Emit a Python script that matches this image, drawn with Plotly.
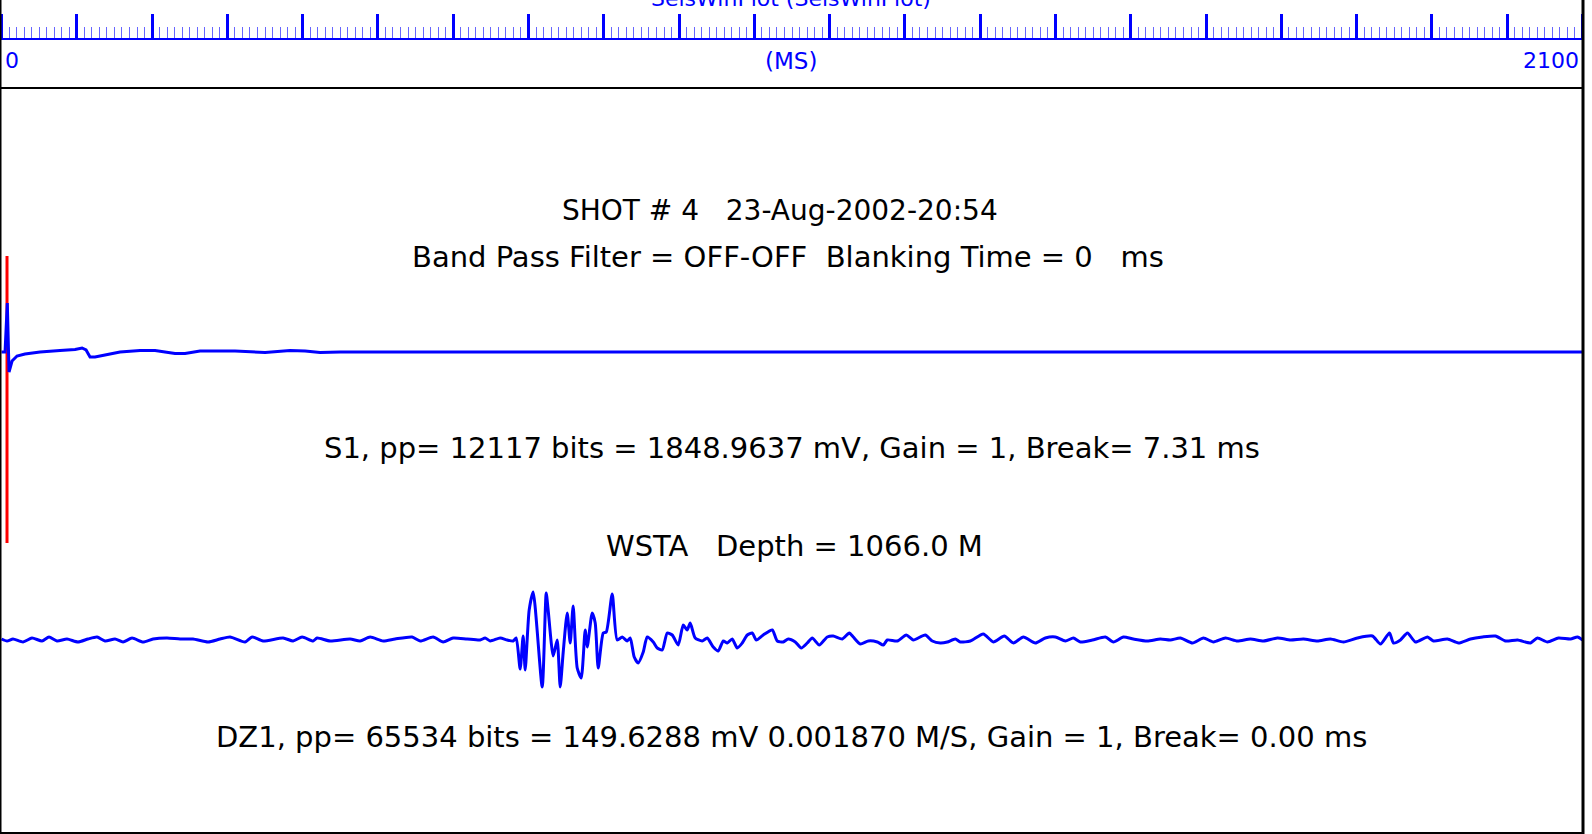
import plotly.graph_objects as go

W, H = 1592, 834

# ---------------- data ----------------
# S1 trace: time (ms) and amplitude (display units, positive up)
s1_t = [0, 4.7, 7.7, 10.0, 14.0, 20.6, 31.2, 51.2, 77.7, 97.7, 107.0, 112.3, 117.6,
        124.2, 137.5, 157.4, 184.0, 204.0, 217.2, 230.5, 243.8, 263.7, 310.2, 330.2,
        350.1, 383.3, 403.3, 423.2, 449.8, 2100]
s1_a = [0, 0, 49, -20, -9, -4, -2, 0, 1.5, 2.5, 4, 2, -5,
        -5, -3, 0, 1.5, 1.5, 0, -1.5, -1.5, 1, 1, 0,
        -0.5, 1.5, 1, -0.5, 0, 0]

# DZ1 trace: time (ms) and amplitude (display units, positive up)
dz1_t = [0, 7.3, 15.3, 28.6, 40.5, 53.8, 63.1, 73.7, 87.0, 101.6, 114.9, 126.9, 137.5,
         150.8, 161.4, 173.4, 188.0, 201.3, 219.9, 237.2, 254.4, 274.4, 290.3, 303.6,
         323.5, 332.9, 347.4, 374.0, 387.3, 399.3, 413.9, 419.2, 436.5, 463.0, 476.3,
         489.6, 506.9, 522.8, 545.4, 556.1, 573.3, 586.6, 599.9, 618.5, 635.8, 642.4,
         649.1, 662.3, 671.7, 679.6, 683.6, 688.9, 692.9, 695.6, 700.9, 706.2, 718.2,
         723.5, 726.1, 732.8, 738.1, 742.1, 746.0, 751.4, 755.4, 759.3, 764.7, 770.0,
         775.3, 778.0, 784.6, 788.6, 792.6, 799.3, 803.3, 811.2, 817.8, 824.5, 831.1,
         835.1, 840.4, 845.7, 852.4, 857.7, 865.7, 871.0, 877.6, 884.3, 890.9, 898.9,
         905.5, 910.8, 914.8, 921.4, 930.7, 937.4, 945.4, 952.0, 958.7, 964.0, 970.6,
         977.3, 983.9, 990.6, 997.2, 1002.5, 1011.8, 1023.8, 1030.4, 1038.4, 1045.0,
         1054.3, 1062.3, 1070.3, 1076.9, 1086.2, 1096.8, 1104.8, 1116.8, 1126.1, 1131.4,
         1140.7, 1151.3, 1163.3, 1171.3, 1176.6, 1189.9, 1201.8, 1211.1, 1227.0, 1236.3,
         1247.0, 1256.3, 1266.9, 1273.6, 1286.9, 1304.1, 1317.4, 1332.0, 1344.0, 1357.3,
         1373.2, 1386.5, 1399.8, 1413.1, 1423.7, 1433.0, 1449.0, 1466.2, 1476.9, 1490.2,
         1503.4, 1522.0, 1539.3, 1552.6, 1565.9, 1581.9, 1596.5, 1609.8, 1625.7, 1641.6,
         1658.9, 1676.2, 1694.8, 1712.0, 1729.3, 1747.9, 1765.2, 1782.5, 1801.1, 1821.0,
         1831.6, 1843.6, 1848.9, 1858.2, 1867.5, 1878.1, 1894.1, 1902.0, 1920.6, 1935.3,
         1951.2, 1967.2, 1984.4, 1997.7, 2013.7, 2030.9, 2040.2, 2053.5, 2068.1, 2084.1,
         2093.4, 2100]
dz1_a = [1, -1, 1, -2, 2, -1, 3, -1, 1, -2, 1, 3, -1,
         1, -2, 2, -2, 1, 2, 1, 1, -2, 1, 3,
         -2, 3, -1, 2, -1, 3, -1, 2, -1, 1, -1,
         3, -1, 1, 3, -1, 3, -2, 2, 1, 0, 2,
         -1, 2, 0, -1, 2, -29, 4, -30, 30, 48, -47,
         47, 30, -16, 0, -47, -13, 27, -3, 34, -28, -38,
         10, -7, 27, 17, -28, 7, 8, 46, 0, 3, -1,
         2, -17, -23, -12, 3, -2, -8, -10, 7, 5, -5,
         15, 10, 17, 2, -1, 2, -7, -11, -1, -3, 1,
         -8, -3, 5, 7, 0, 5, 10, -1, -2, 1,
         -2, -8, -3, 2, -5, 3, 4, 1, 7, 3,
         -4, -1, -2, -5, 0, -1, 5, 0, 5, -1,
         -3, -2, 1, -2, -1, 6, -2, 4, -3, 3,
         -3, 2, 3, -1, 2, -2, 0, 3, -2, 3,
         1, -1, 1, 0, 2, -3, 2, -2, 2, -1,
         1, -1, 2, 0, 1, -1, 1, -2, 2, 4,
         -4, 7, -3, 0, 7, -2, 3, -1, 1, -3,
         1, 3, 4, -1, 0, -3, 2, -2, 2, 1,
         3, 0]

BREAK_MS = 7.31
X_MIN, X_MAX = 0, 2100

title_text = "SeisWinPlot (SeisWinPlot)"
unit_text = "(MS)"
header_lines = ["SHOT # 4\u00a0\u00a0\u00a023-Aug-2002-20:54",
                "Band Pass Filter = OFF-OFF\u00a0\u00a0Blanking Time = 0\u00a0\u00a0\u00a0ms"]
s1_label = "S1, pp= 12117 bits = 1848.9637 mV, Gain = 1, Break= 7.31 ms"
station_label = "WSTA\u00a0\u00a0\u00a0Depth = 1066.0 M"
dz1_label = "DZ1, pp= 65534 bits = 149.6288 mV 0.001870 M/S, Gain = 1, Break= 0.00 ms"

# ---------------- layout constants (pixel space) ----------------
AXIS_Y = 40          # pixel row of top time axis
S1_BASE = 352
DZ1_BASE = 640
RIGHT_PX = 1582.5

FONT = "DejaVu Sans, Liberation Sans, Arial, sans-serif"
BLUE = "#0000ff"

fig = go.Figure()

fig.add_trace(go.Scatter(x=s1_t, y=[S1_BASE - a for a in s1_a], mode="lines",
                         line=dict(color=BLUE, width=3), hoverinfo="skip"))
fig.add_trace(go.Scatter(x=dz1_t, y=[DZ1_BASE - a for a in dz1_a], mode="lines",
                         line=dict(color=BLUE, width=3, shape="spline", smoothing=0.6),
                         hoverinfo="skip"))

def px(x):
    return x / W

def py(y):
    return 1 - y / H

shapes = []
# red break marker
shapes.append(dict(type="line", xref="x", yref="y", x0=BREAK_MS, x1=BREAK_MS,
                   y0=256, y1=543, line=dict(color="#ff0000", width=3), layer="below"))
# frame lines
shapes.append(dict(type="line", xref="paper", yref="paper", x0=px(0.75), x1=px(0.75),
                   y0=0, y1=1, line=dict(color="black", width=1.5)))
shapes.append(dict(type="line", xref="paper", yref="paper", x0=px(1583), x1=px(1583),
                   y0=0, y1=1, line=dict(color="black", width=3)))
shapes.append(dict(type="line", xref="paper", yref="paper", x0=0, x1=px(1584),
                   y0=py(88), y1=py(88), line=dict(color="black", width=2)))
shapes.append(dict(type="line", xref="paper", yref="paper", x0=0, x1=px(1584),
                   y0=py(833), y1=py(833), line=dict(color="black", width=2)))

annotations = []
annotations.append(dict(text=title_text, xref="paper", yref="paper", x=px(791), y=py(-2),
                        xanchor="center", yanchor="middle", showarrow=False,
                        font=dict(family=FONT, size=22, color=BLUE)))
annotations.append(dict(text=unit_text, xref="paper", yref="paper", x=px(791), y=py(61),
                        xanchor="center", yanchor="middle", showarrow=False,
                        font=dict(family=FONT, size=23, color=BLUE)))
annotations.append(dict(text=str(X_MIN), xref="x", yref="paper", x=X_MIN, y=py(61),
                        xanchor="left", yanchor="middle", showarrow=False, xshift=1,
                        font=dict(family=FONT, size=22, color=BLUE)))
annotations.append(dict(text=str(X_MAX), xref="x", yref="paper", x=X_MAX, y=py(61),
                        xanchor="right", yanchor="middle", showarrow=False, xshift=-2,
                        font=dict(family=FONT, size=22, color=BLUE)))

text_rows = [(header_lines[0], 780, 210, 28), (header_lines[1], 788, 257, 29),
             (s1_label, 792, 448, 29), (station_label, 794, 546, 29),
             (dz1_label, 791, 737, 29)]
for t, cx, cy, fs in text_rows:
    annotations.append(dict(text=t, xref="paper", yref="paper", x=px(cx), y=py(cy),
                            xanchor="center", yanchor="middle", showarrow=False,
                            font=dict(family=FONT, size=fs, color="black")))

fig.update_layout(
    width=W, height=H,
    margin=dict(l=0, r=0, t=0, b=0),
    paper_bgcolor="white", plot_bgcolor="white",
    showlegend=False,
    xaxis=dict(domain=[0, RIGHT_PX / W], range=[-2.0, X_MAX], side="top",
               showgrid=False, zeroline=False, showticklabels=False,
               showline=True, linecolor=BLUE, linewidth=2,
               ticks="outside", tick0=0, dtick=100, ticklen=24, tickwidth=3,
               tickcolor=BLUE,
               minor=dict(dtick=10, ticks="outside", ticklen=11, tickwidth=1,
                          tickcolor="rgba(0,0,255,0.6)", showgrid=False),
               fixedrange=True),
    yaxis=dict(domain=[0, 1 - AXIS_Y / H], range=[H, AXIS_Y], visible=False,
               showgrid=False, zeroline=False, fixedrange=True),
    shapes=shapes,
    annotations=annotations,
)

fig.write_html("out.html", config={"displayModeBar": False},
               post_script="document.body.style.margin='0';")
